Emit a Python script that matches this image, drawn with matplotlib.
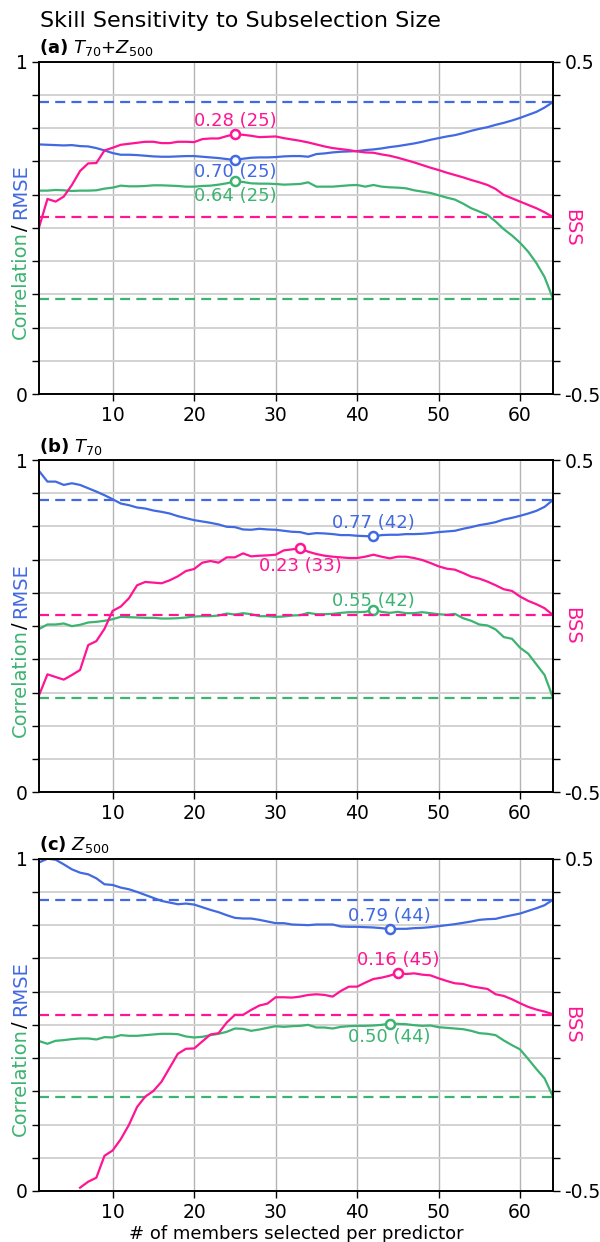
import numpy as np
import matplotlib
matplotlib.use("Agg")
import matplotlib.pyplot as plt

# ---------------- data ----------------
members = np.arange(1, 65)

panel_titles = [r"$\mathbf{(a)}$ $T_{70}$+$Z_{500}$",
                r"$\mathbf{(b)}$ $T_{70}$",
                r"$\mathbf{(c)}$ $Z_{500}$"]

rmse_a = [0.751, 0.750, 0.749, 0.748, 0.749, 0.746, 0.745, 0.740, 0.733, 0.725,
          0.720, 0.720, 0.719, 0.717, 0.715, 0.714, 0.714, 0.715, 0.716, 0.716,
          0.714, 0.712, 0.710, 0.707, 0.704, 0.708, 0.711, 0.712, 0.712, 0.713,
          0.715, 0.716, 0.716, 0.714, 0.722, 0.724, 0.727, 0.729, 0.730, 0.731,
          0.734, 0.736, 0.739, 0.743, 0.746, 0.750, 0.754, 0.759, 0.765, 0.770,
          0.775, 0.779, 0.785, 0.792, 0.798, 0.803, 0.810, 0.816, 0.823, 0.831,
          0.840, 0.849, 0.862, 0.878]
corr_a = [0.612, 0.612, 0.614, 0.613, 0.611, 0.612, 0.612, 0.613, 0.618, 0.621,
          0.627, 0.625, 0.625, 0.626, 0.628, 0.628, 0.627, 0.626, 0.624, 0.624,
          0.626, 0.627, 0.630, 0.634, 0.640, 0.638, 0.634, 0.633, 0.633, 0.632,
          0.630, 0.631, 0.632, 0.637, 0.624, 0.624, 0.624, 0.626, 0.628, 0.629,
          0.624, 0.629, 0.624, 0.622, 0.621, 0.619, 0.613, 0.609, 0.605, 0.598,
          0.591, 0.585, 0.573, 0.559, 0.549, 0.539, 0.519, 0.496, 0.477, 0.455,
          0.428, 0.394, 0.352, 0.289]
bss_a = [0.004, 0.087, 0.079, 0.094, 0.129, 0.171, 0.194, 0.195, 0.233, 0.241,
         0.250, 0.253, 0.256, 0.259, 0.259, 0.255, 0.255, 0.259, 0.259, 0.258,
         0.267, 0.269, 0.269, 0.276, 0.282, 0.280, 0.277, 0.273, 0.274, 0.275,
         0.270, 0.266, 0.262, 0.257, 0.251, 0.245, 0.240, 0.237, 0.234, 0.230,
         0.227, 0.226, 0.221, 0.217, 0.211, 0.204, 0.197, 0.189, 0.181, 0.174,
         0.166, 0.159, 0.152, 0.144, 0.137, 0.129, 0.117, 0.099, 0.089, 0.079,
         0.069, 0.059, 0.047, 0.033]

rmse_b = [0.966, 0.935, 0.935, 0.925, 0.930, 0.925, 0.915, 0.905, 0.894, 0.882,
          0.869, 0.864, 0.857, 0.854, 0.848, 0.844, 0.839, 0.831, 0.825, 0.819,
          0.815, 0.811, 0.806, 0.799, 0.798, 0.791, 0.790, 0.793, 0.791, 0.790,
          0.787, 0.784, 0.783, 0.777, 0.780, 0.779, 0.777, 0.774, 0.774, 0.772,
          0.771, 0.770, 0.774, 0.775, 0.775, 0.777, 0.777, 0.778, 0.780, 0.783,
          0.785, 0.787, 0.793, 0.798, 0.804, 0.808, 0.813, 0.821, 0.826, 0.832,
          0.839, 0.847, 0.859, 0.879]
corr_b = [0.492, 0.505, 0.505, 0.508, 0.500, 0.504, 0.511, 0.513, 0.516, 0.521,
          0.528, 0.527, 0.526, 0.525, 0.525, 0.523, 0.523, 0.524, 0.526, 0.529,
          0.530, 0.530, 0.532, 0.538, 0.535, 0.539, 0.536, 0.530, 0.530, 0.528,
          0.529, 0.532, 0.533, 0.540, 0.536, 0.536, 0.537, 0.540, 0.542, 0.542,
          0.543, 0.549, 0.543, 0.540, 0.543, 0.539, 0.539, 0.542, 0.539, 0.536,
          0.534, 0.537, 0.524, 0.516, 0.505, 0.502, 0.490, 0.467, 0.462, 0.435,
          0.417, 0.385, 0.353, 0.287]
bss_b = [-0.206, -0.145, -0.153, -0.161, -0.147, -0.132, -0.057, -0.045, -0.008, 0.046,
         0.059, 0.084, 0.123, 0.133, 0.131, 0.129, 0.138, 0.150, 0.166, 0.172,
         0.191, 0.196, 0.191, 0.207, 0.207, 0.219, 0.210, 0.212, 0.213, 0.215,
         0.228, 0.231, 0.234, 0.224, 0.217, 0.212, 0.209, 0.207, 0.205, 0.205,
         0.209, 0.215, 0.209, 0.204, 0.209, 0.209, 0.205, 0.199, 0.190, 0.180,
         0.173, 0.170, 0.160, 0.149, 0.143, 0.134, 0.123, 0.111, 0.106, 0.089,
         0.076, 0.066, 0.054, 0.034]

rmse_c = [0.989, 1.000, 0.997, 0.983, 0.968, 0.958, 0.953, 0.941, 0.923, 0.921,
          0.913, 0.908, 0.900, 0.891, 0.882, 0.873, 0.868, 0.863, 0.865, 0.862,
          0.854, 0.846, 0.839, 0.830, 0.822, 0.820, 0.820, 0.816, 0.811, 0.806,
          0.806, 0.802, 0.801, 0.800, 0.802, 0.802, 0.802, 0.796, 0.795, 0.795,
          0.794, 0.793, 0.791, 0.788, 0.789, 0.789, 0.791, 0.792, 0.794, 0.797,
          0.800, 0.803, 0.807, 0.811, 0.816, 0.818, 0.819, 0.825, 0.830, 0.835,
          0.843, 0.851, 0.860, 0.876]
corr_c = [0.451, 0.443, 0.452, 0.454, 0.457, 0.459, 0.459, 0.456, 0.463, 0.462,
          0.469, 0.467, 0.467, 0.469, 0.471, 0.473, 0.473, 0.472, 0.465, 0.462,
          0.464, 0.469, 0.473, 0.479, 0.489, 0.488, 0.482, 0.486, 0.491, 0.496,
          0.494, 0.496, 0.497, 0.500, 0.492, 0.492, 0.489, 0.494, 0.496, 0.497,
          0.497, 0.498, 0.500, 0.504, 0.503, 0.502, 0.499, 0.497, 0.498, 0.493,
          0.491, 0.489, 0.487, 0.482, 0.475, 0.473, 0.469, 0.453, 0.439, 0.426,
          0.397, 0.367, 0.339, 0.286]
bss_c = [np.nan, np.nan, np.nan, np.nan, np.nan, -0.490, -0.472, -0.460, -0.394, -0.378,
         -0.344, -0.301, -0.247, -0.216, -0.199, -0.171, -0.129, -0.087, -0.072, -0.071,
         -0.050, -0.029, -0.025, 0.007, 0.030, 0.030, 0.045, 0.058, 0.064, 0.083,
         0.083, 0.082, 0.085, 0.090, 0.092, 0.090, 0.085, 0.102, 0.115, 0.115,
         0.127, 0.138, 0.142, 0.148, 0.156, 0.153, 0.155, 0.151, 0.149, 0.140,
         0.132, 0.125, 0.123, 0.116, 0.112, 0.108, 0.092, 0.087, 0.077, 0.065,
         0.054, 0.046, 0.040, 0.032]

# full-ensemble reference values (dashed lines)
rmse_full = [0.878, 0.880, 0.876]
corr_full = [0.285, 0.284, 0.283]
bss_full = [0.032, 0.033, 0.031]

rmse_all = [rmse_a, rmse_b, rmse_c]
corr_all = [corr_a, corr_b, corr_c]
bss_all = [bss_a, bss_b, bss_c]

# annotation offsets in points (rmse, corr, bss): (dy, va)
ann_offsets = [
    [(-2, "top"), (-4, "top"), (3, "bottom")],
    [(3, "bottom"), (0, "bottom"), (-6, "top")],
    [(3, "bottom"), (-3, "top"), (3, "bottom")],
]

# ---------------- style ----------------
GREEN = "#3cb371"
BLUE = "#4169e1"
PINK = "#ff1493"
LW = 1.6
FS_TICK = 13.5
FS_ANN = 13

fig = plt.figure(figsize=(6, 12.42), dpi=100)
fig.text(40 / 600, 1 - 27.3 / 1242, "Skill Sensitivity to Subselection Size",
         fontsize=16, ha="left", va="baseline")

left = 39.3 / 600
width = 513.4 / 600
height = 332.3 / 1242
bottoms = [1 - 394 / 1242, 1 - 792.3 / 1242, 1 - 1191 / 1242]

for i in range(3):
    ax = fig.add_axes([left, bottoms[i], width, height])
    ax2 = ax.twinx()
    ax.set_xlim(1, 64)
    ax.set_ylim(0, 1)
    ax2.set_ylim(-0.5, 0.5)

    ax.set_xticks([10, 20, 30, 40, 50, 60])
    ax.set_xticklabels(["10", "20", "30", "40", "50", "60"])
    lticks = np.round(np.arange(0, 1.01, 0.1), 1)
    ax.set_yticks(lticks)
    ax.set_yticklabels(["0"] + [""] * 9 + ["1"])
    rticks = np.round(np.arange(-0.5, 0.51, 0.1), 1)
    ax2.set_yticks(rticks)
    ax2.set_yticklabels(["-0.5"] + [""] * 9 + ["0.5"])
    ax.tick_params(labelsize=FS_TICK, length=5, width=1)
    ax2.tick_params(labelsize=FS_TICK, length=5, width=1)

    ax.grid(axis="y", color="#d2d2d2", lw=1.4)
    ax.grid(axis="x", color="#b4b4b4", lw=1.0)
    ax.set_axisbelow(True)
    for sp in list(ax.spines.values()) + list(ax2.spines.values()):
        sp.set_linewidth(1.2)

    rmse = np.array(rmse_all[i])
    corr = np.array(corr_all[i])
    bss = np.array(bss_all[i])

    ax.axhline(rmse_full[i], color=BLUE, ls="--", lw=LW, dashes=(4.5, 2.8))
    ax.axhline(corr_full[i], color=GREEN, ls="--", lw=LW, dashes=(4.5, 2.8))
    ax.plot(members, rmse, color=BLUE, lw=LW)
    ax.plot(members, corr, color=GREEN, lw=LW)
    ax2.axhline(bss_full[i], color=PINK, ls="--", lw=LW, dashes=(4.5, 2.8))
    ax2.plot(members, bss, color=PINK, lw=LW)

    # best points
    k_r = int(np.nanargmin(rmse))
    k_c = int(np.nanargmax(corr))
    k_b = int(np.nanargmax(bss))
    best = [(ax, k_r, rmse, BLUE), (ax, k_c, corr, GREEN), (ax2, k_b, bss, PINK)]
    for j, (a, k, arr, col) in enumerate(best):
        a.plot(members[k], arr[k], "o", ms=6.5, mfc="white", mec=col, mew=1.8,
               zorder=5)
        dy, va = ann_offsets[i][j]
        a.annotate(f"{arr[k]:.2f} ({members[k]})", (members[k], arr[k]),
                   xytext=(0, dy), textcoords="offset points", ha="center",
                   va=va, color=col, fontsize=FS_ANN, zorder=6)

    ax.set_title(panel_titles[i], loc="left", fontsize=13, pad=6)

    # left multicolour label
    t1 = ax.text(-0.0366, 0.166, "Correlation", color=GREEN, rotation=90,
                 ha="center", va="bottom", fontsize=14, transform=ax.transAxes)
    t2 = ax.annotate("/", xy=(0.5, 1), xycoords=t1, ha="center", va="bottom",
                     rotation=90, color="black", fontsize=14)
    ax.annotate("RMSE", xy=(0.5, 1), xycoords=t2, xytext=(0, 3.5),
                textcoords="offset points", ha="center", va="bottom",
                rotation=90, color=BLUE, fontsize=14,
                annotation_clip=False)
    # right label
    ax.text(1.037, 0.5, "BSS", color=PINK, rotation=270, ha="center",
            va="center", fontsize=14, transform=ax.transAxes)

    if i == 2:
        ax.set_xlabel("# of members selected per predictor", fontsize=13,
                      labelpad=2)

fig.savefig("out.png", dpi=100)
